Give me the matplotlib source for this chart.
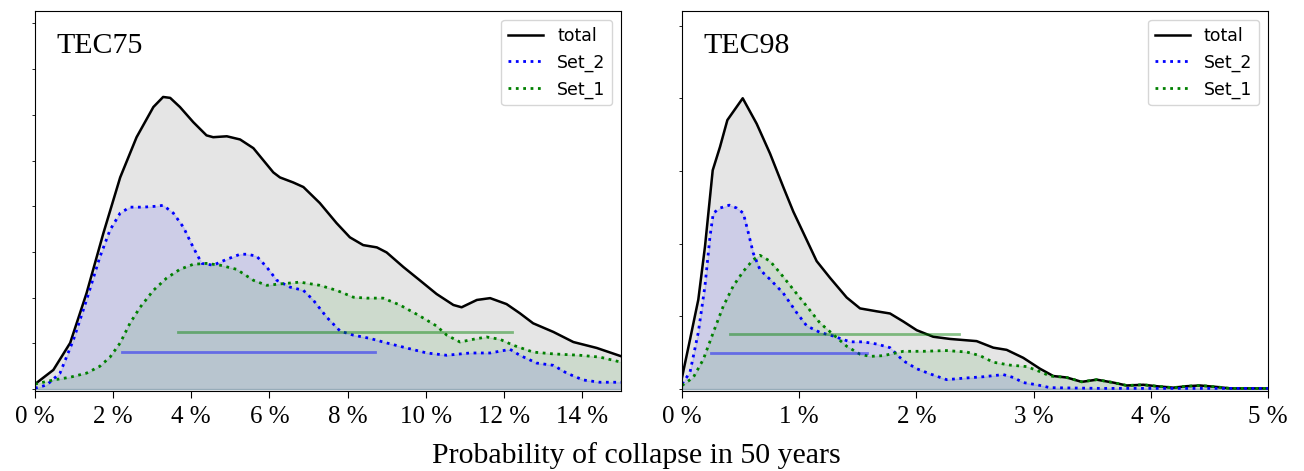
import matplotlib.pyplot as plt

# TEC75 (x in %, y density in arbitrary units)
tec75_total_x = [0.0, 0.47, 0.90, 1.32, 1.75, 2.18, 2.60, 3.03, 3.28, 3.46, 3.71, 4.05, 4.39, 4.56, 4.91,
                 5.25, 5.59, 5.84, 6.10, 6.27, 6.61, 6.87, 7.29, 7.72, 8.06, 8.40, 8.75, 9.00, 9.43, 9.85,
                 10.28, 10.71, 10.92, 11.31, 11.65, 12.07, 12.41, 12.75, 13.27, 13.78, 14.38, 15.0]
tec75_total_y = [0.11, 0.42, 1.01, 2.10, 3.41, 4.63, 5.51, 6.17, 6.39, 6.37, 6.17, 5.84, 5.55, 5.51, 5.53,
                 5.46, 5.27, 5.01, 4.74, 4.63, 4.52, 4.42, 4.07, 3.63, 3.32, 3.15, 3.10, 2.99, 2.67, 2.38,
                 2.08, 1.84, 1.79, 1.95, 1.99, 1.86, 1.66, 1.44, 1.25, 1.03, 0.90, 0.72]
tec75_set2_x = [0.0, 0.30, 0.64, 0.98, 1.32, 1.66, 1.92, 2.18, 2.43, 2.77, 3.11, 3.28, 3.54, 3.80, 4.05,
                4.27, 4.56, 4.91, 5.25, 5.42, 5.67, 5.93, 6.19, 6.53, 6.87, 7.12, 7.47, 7.81, 8.15, 8.57,
                9.00, 9.51, 10.03, 10.54, 11.13, 11.65, 12.16, 12.41, 12.84, 13.27, 13.61, 14.03, 14.46, 15.0]
tec75_set2_y = [0.02, 0.09, 0.35, 1.07, 1.95, 2.89, 3.48, 3.85, 3.98, 3.98, 4.00, 4.02, 3.85, 3.54, 3.10,
                2.75, 2.71, 2.84, 2.95, 2.95, 2.91, 2.67, 2.38, 2.23, 2.16, 1.95, 1.57, 1.27, 1.18, 1.11,
                1.01, 0.90, 0.79, 0.74, 0.79, 0.79, 0.87, 0.74, 0.57, 0.52, 0.35, 0.20, 0.15, 0.15]
tec75_set1_x = [0.0, 0.47, 0.90, 1.32, 1.66, 1.92, 2.18, 2.43, 2.69, 3.03, 3.37, 3.71, 4.05, 4.39, 4.74,
                5.16, 5.59, 5.93, 6.27, 6.78, 7.29, 7.72, 8.15, 8.49, 8.91, 9.34, 9.85, 10.28, 10.54, 10.88,
                11.22, 11.56, 11.90, 12.24, 12.75, 13.27, 13.95, 14.46, 15.0]
tec75_set1_y = [0.11, 0.20, 0.26, 0.35, 0.50, 0.70, 1.01, 1.44, 1.79, 2.16, 2.43, 2.62, 2.73, 2.75, 2.71,
                2.62, 2.38, 2.27, 2.30, 2.34, 2.27, 2.16, 2.01, 1.99, 1.99, 1.84, 1.60, 1.38, 1.18, 1.03,
                1.09, 1.14, 1.09, 0.96, 0.81, 0.77, 0.74, 0.70, 0.59]
tec75_set2_range = [2.23, 8.70]
tec75_set2_level = 0.81
tec75_set1_range = [3.66, 12.21]
tec75_set1_level = 1.25

# TEC98
tec98_total_x = [0.0, 0.068, 0.139, 0.196, 0.262, 0.324, 0.387, 0.518, 0.637, 0.751, 0.864, 0.950, 1.035,
                 1.149, 1.263, 1.405, 1.519, 1.661, 1.775, 1.888, 2.003, 2.144, 2.287, 2.514, 2.656, 2.770,
                 2.912, 3.055, 3.168, 3.282, 3.410, 3.538, 3.680, 3.794, 3.936, 4.050, 4.192, 4.306, 4.420,
                 4.562, 4.676, 5.0]
tec98_total_y = [0.16, 0.68, 1.23, 1.96, 3.01, 3.33, 3.70, 4.00, 3.65, 3.24, 2.78, 2.44, 2.15,
                 1.76, 1.53, 1.26, 1.11, 1.07, 1.04, 0.93, 0.81, 0.72, 0.69, 0.66, 0.57, 0.54,
                 0.43, 0.28, 0.18, 0.16, 0.10, 0.13, 0.09, 0.05, 0.06, 0.04, 0.02, 0.04, 0.05,
                 0.03, 0.01, 0.01]
tec98_set2_x = [0.0, 0.068, 0.139, 0.196, 0.239, 0.267, 0.324, 0.404, 0.467, 0.523, 0.566, 0.608, 0.666,
                0.751, 0.864, 0.979, 1.064, 1.177, 1.291, 1.433, 1.547, 1.661, 1.775, 1.888, 2.003, 2.116,
                2.258, 2.400, 2.571, 2.741, 2.827, 2.912, 3.027, 3.140, 3.57, 5.0]
tec98_set2_y = [0.07, 0.23, 0.78, 1.42, 2.10, 2.42, 2.49, 2.53, 2.49, 2.42, 2.15, 1.87, 1.64,
                1.51, 1.32, 1.05, 0.87, 0.78, 0.73, 0.65, 0.65, 0.62, 0.57, 0.39, 0.28, 0.21,
                0.13, 0.15, 0.17, 0.20, 0.16, 0.09, 0.06, 0.02, 0.01, 0.01]
tec98_set1_x = [0.0, 0.096, 0.182, 0.267, 0.352, 0.438, 0.523, 0.608, 0.666, 0.751, 0.836, 0.950, 1.064,
                1.177, 1.291, 1.405, 1.519, 1.604, 1.718, 1.803, 1.888, 2.059, 2.258, 2.429, 2.543, 2.656,
                2.799, 2.941, 3.055, 3.140, 3.282, 3.410, 3.538, 3.680, 3.794, 3.936, 4.050, 4.192, 4.306,
                4.420, 4.562, 4.676, 5.0]
tec98_set1_y = [0.05, 0.16, 0.41, 0.78, 1.14, 1.42, 1.62, 1.78, 1.84, 1.76, 1.60, 1.37, 1.14,
                0.91, 0.75, 0.59, 0.48, 0.45, 0.46, 0.49, 0.52, 0.52, 0.53, 0.51, 0.46, 0.37,
                0.33, 0.31, 0.24, 0.18, 0.16, 0.10, 0.13, 0.09, 0.05, 0.06, 0.04, 0.02, 0.04,
                0.05, 0.03, 0.01, 0.01]
tec98_set2_range = [0.245, 1.576]
tec98_set2_level = 0.50
tec98_set1_range = [0.41, 2.36]
tec98_set1_level = 0.76

SERIF = "Liberation Serif"


def draw_panel(ax, name, total, set2, set1, r2, l2, r1, l1, xticks, xmax, ymax, nyt):
    ax.fill_between(total[0], total[1], color="grey", alpha=0.2)
    ax.fill_between(set2[0], set2[1], color="blue", alpha=0.1)
    ax.fill_between(set1[0], set1[1], color="green", alpha=0.1)
    ax.plot(total[0], total[1], color="black", lw=1.8, label="total")
    ax.plot(set2[0], set2[1], color="blue", lw=2.0, ls=":", label="Set_2")
    ax.plot(set1[0], set1[1], color="green", lw=2.0, ls=":", label="Set_1")
    ax.plot(r2, [l2, l2], color="blue", alpha=0.45, lw=2.0)
    ax.plot(r1, [l1, l1], color="green", alpha=0.45, lw=2.0)

    ax.set_xlim(0, xmax)
    ax.set_ylim(-ymax * 0.005, ymax)
    ax.set_xticks(xticks)
    ax.set_xticklabels([f"{v} %" for v in xticks], fontsize=18, family=SERIF)
    ax.set_yticks(range(nyt))
    ax.set_yticklabels([])
    ax.tick_params(axis="x", length=5, pad=6)
    ax.tick_params(axis="y", length=2, width=0.6)
    ax.text(0.037, 0.89, name, transform=ax.transAxes, fontsize=21.5, family=SERIF, va="baseline")
    ax.legend(loc="upper right", prop={"family": "DejaVu Sans", "size": 12.5})


def main():
    fig = plt.figure(figsize=(13.04, 4.71), dpi=100)
    ax1 = fig.add_axes([35 / 1304, 80 / 471, 586 / 1304, 380 / 471])
    ax2 = fig.add_axes([682 / 1304, 80 / 471, 586 / 1304, 380 / 471])

    draw_panel(ax1, "TEC75", (tec75_total_x, tec75_total_y), (tec75_set2_x, tec75_set2_y),
               (tec75_set1_x, tec75_set1_y), tec75_set2_range, tec75_set2_level,
               tec75_set1_range, tec75_set1_level, list(range(0, 15, 2)), 15, 8.27, 9)
    draw_panel(ax2, "TEC98", (tec98_total_x, tec98_total_y), (tec98_set2_x, tec98_set2_y),
               (tec98_set1_x, tec98_set1_y), tec98_set2_range, tec98_set2_level,
               tec98_set1_range, tec98_set1_level, list(range(0, 6)), 5, 5.2, 6)

    fig.text(0.488, 0.018, "Probability of collapse in 50 years", ha="center", va="baseline",
             fontsize=21.5, family=SERIF)
    fig.savefig("out.png", dpi=100)


if __name__ == "__main__":
    main()
